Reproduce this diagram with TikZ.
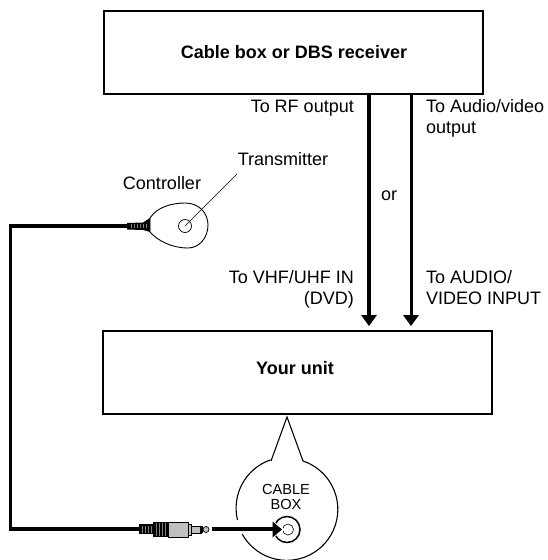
\documentclass[tikz,border=0pt]{standalone}
\usepackage{fontspec}
\setmainfont{Liberation Sans}
\tikzset{
 lab/.style={font=\fontsize{18bp}{21.5bp}\selectfont,inner sep=0pt},
 bold/.style={font=\fontsize{18bp}{21.5bp}\selectfont\bfseries,inner sep=0pt},
 small/.style={font=\fontsize{14.6bp}{15bp}\selectfont,inner sep=0pt},
 boxn/.style={draw,line width=1.3pt,inner sep=0pt},
}
\begin{document}
\begin{tikzpicture}[x=1bp,y=-1bp]
\useasboundingbox (0,0) rectangle (548,560);
\fill[white] (0,0) rectangle (548,560);
\node[boxn,minimum width=379bp,minimum height=83bp] (cable) at (293.5,52.5) {};
\node[bold] (cablet) at (294,52) {Cable box or DBS receiver};
\node[boxn,minimum width=389bp,minimum height=83bp] (unit) at (297.5,372.5) {};
\node[bold] (unitt) at (295,368) {Your unit};
% arrows
\coordinate (a1s) at (369,94);
\coordinate (a1e) at (369,315);
\coordinate (a2s) at (411,94);
\coordinate (a2e) at (411,315);
\draw[line width=4pt] (a1s) -- (a1e);
\fill (361,315) -- (377,315) -- (369,326) -- cycle;
\draw[line width=3pt] (a2s) -- (a2e);
\fill (403,315) -- (419,315) -- (411,326) -- cycle;
\node[lab,anchor=base east,align=right] (rf) at (354,113) {To RF output};
\node[lab,anchor=north west,align=left] (av) at (426,99) {To Audio/video\\output};
\node[lab] (or) at (389,196) {or};
\node[lab,anchor=north east,align=right] (vhf) at (354,270) {To VHF/UHF IN\\(DVD)};
\node[lab,anchor=north west,align=left] (vid) at (426,270) {To AUDIO/\\VIDEO INPUT};
\node[lab] (ctrl) at (162,183) {Controller};
\node[lab] (tx) at (283,159) {Transmitter};
% controller body
\draw[line width=.9pt,fill=white] (150,218) .. controls (157,207) and (172,203) .. (185,203) .. controls (199,203) and (208,213) .. (208,225) .. controls (208,238) and (199,248) .. (188,248) .. controls (172,248) and (158,241) .. (150,232) -- cycle;
\node[draw,circle,line width=.7pt,minimum size=13bp,inner sep=0pt] (txc) at (185,226) {};
\coordinate (txl) at (237,174);
\draw[line width=.6pt] (txl) -- (txc.center);
% strain relief
\fill[black] (127,223) -- (143,222.5) -- (150,218) -- (150,232) -- (143,230) -- (127,229.5) -- cycle;
\foreach \x in {131,134,137,140,143,146}{\draw[black!50,line width=.7pt] (\x,224) -- (\x,228);}
% cable
\draw[line width=4pt] (127,226) -- (10.5,226) -- (10.5,529) -- (139,529);
% plug
\fill[black] (139,524) rectangle (153,534);
\foreach \x in {142,145,148,151}{\draw[black!50,line width=.7pt] (\x,525.5) -- (\x,532.5);}
\fill[black] (153,522) rectangle (168,537);
\foreach \x in {156,159,162,165}{\draw[black!50,line width=.7pt] (\x,523) -- (\x,536);}
\draw[line width=.7pt,fill=black!25] (168,522) rectangle (188,537);
\draw[line width=.7pt,fill=black!25] (188,524.5) rectangle (191,535);
\draw[line width=.7pt,fill=black!25] (191,526) rectangle (201,533);
\fill[black] (200,526) rectangle (203,532.5);
\draw[line width=.7pt,fill=black!25] (206,529.5) circle (3);
% callout
\coordinate (tip) at (287,417);
\draw[line width=1.1pt] (271,461) -- (tip) -- (303,461)
  arc[start angle=-71.5,end angle=151,radius=51];
\draw[line width=1.1pt] (237.5,520) arc[start angle=166.5,end angle=251,radius=51];
\node[small,align=center] (cb) at (286,496.5) {CABLE\\BOX};
% jack
\node[draw,circle,line width=1.5pt,minimum size=26bp,inner sep=0pt] (jack) at (287,529.5) {};
\node[draw,circle,line width=.6pt,minimum size=11bp,inner sep=0pt] (jacki) at (288,529.5) {};
\fill[white] (268,518) -- (285,529.5) -- (268,541) -- cycle;
\coordinate (cableR) at (212,529);
\draw[line width=4pt] (cableR) -- (274,529);
\fill (272.5,521.5) -- (282,529.5) -- (272.5,537.5) -- cycle;
\end{tikzpicture}
\end{document}
